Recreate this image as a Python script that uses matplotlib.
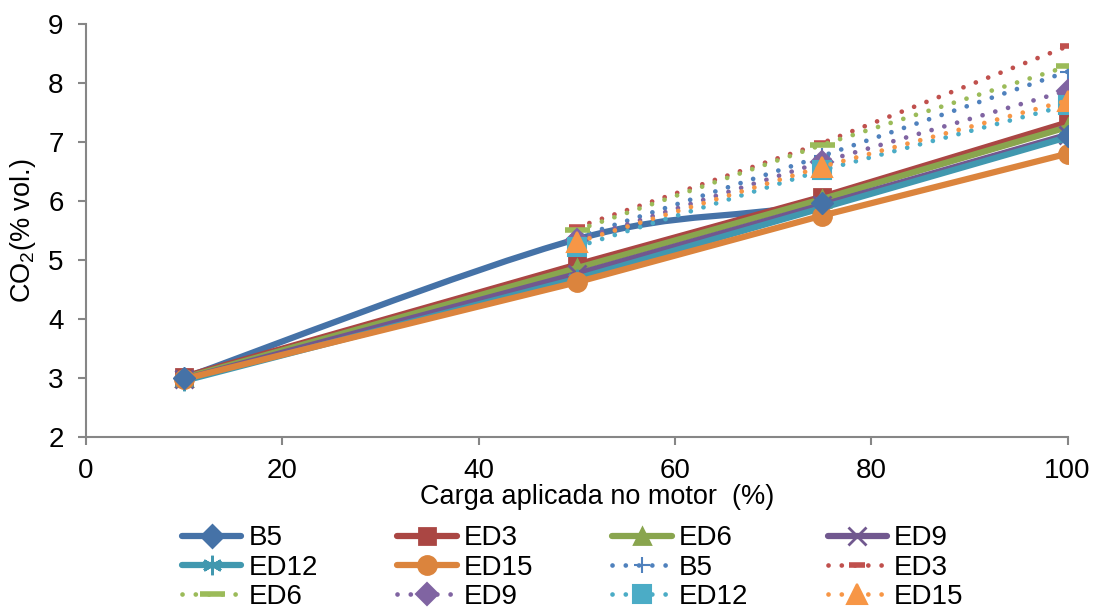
import numpy as np
import matplotlib
matplotlib.use('Agg')
from matplotlib import pyplot as plt
from matplotlib.path import Path
from matplotlib.patches import PathPatch
from matplotlib.lines import Line2D

plt.rcParams['font.family'] = ['Liberation Sans', 'DejaVu Sans']
plt.rcParams['mathtext.default'] = 'regular'

# Data
carga_full = [10, 50, 75, 100]
carga_part = [50, 75, 100]

labels = ['B5', 'ED3', 'ED6', 'ED9', 'ED12', 'ED15']

# solid series
b5 = [3.0, 5.35, 5.97, 7.10]
ed3 = [3.02, 4.92, 6.07, 7.33]
ed6 = [3.0, 4.86, 6.03, 7.25]
ed9 = [2.98, 4.76, 5.93, 7.12]
ed12 = [2.95, 4.68, 5.88, 7.08]
ed15 = [2.98, 4.62, 5.75, 6.80]

# dotted series
b5_d = [5.38, 6.76, 8.19]
ed3_d = [5.55, 6.98, 8.62]
ed6_d = [5.50, 6.95, 8.28]
ed9_d = [5.33, 6.66, 7.87]
ed12_d = [5.22, 6.52, 7.62]
ed15_d = [5.30, 6.58, 7.70]

solid_colors = ['#4572A7', '#AA4643', '#89A54E', '#71588F', '#4198AF', '#DB843D']
dot_colors = ['#4F81BD', '#C0504D', '#9BBB59', '#8064A2', '#4BACC6', '#F79646']
solid_markers = ['D', 's', '^', 'x', (6, 2, 0), 'o']
solid_msize = [11, 12, 12, 13, 14, 13]
dot_markers = ['+', '_', '_', 'D', 's', '^']
dot_msize = [12, 12, 18, 11, 13, 14]


def smooth_path(xs, ys):
    # Excel style smoothed line: cubic bezier with catmull-rom tangents
    pts = np.column_stack([xs, ys]).astype(float)
    verts = [pts[0]]
    codes = [Path.MOVETO]
    n = len(pts)
    for i in range(n - 1):
        p0 = pts[i - 1] if i > 0 else pts[i]
        p1 = pts[i]
        p2 = pts[i + 1]
        p3 = pts[i + 2] if i + 2 < n else pts[i + 1]
        c1 = p1 + (p2 - p0) / 6.0
        c2 = p2 - (p3 - p1) / 6.0
        verts += [c1, c2, p2]
        codes += [Path.CURVE4] * 3
    return Path(verts, codes)


fig = plt.figure(figsize=(10.95, 6.11), dpi=100)
ax = fig.add_axes([0.0785, 0.285, 0.8965, 0.676])

solid = [b5, ed3, ed6, ed9, ed12, ed15]
dotted = [b5_d, ed3_d, ed6_d, ed9_d, ed12_d, ed15_d]

handles = []
for i, ys in enumerate(solid):
    c = solid_colors[i]
    if i == 0:
        ax.add_patch(PathPatch(smooth_path(carga_full, ys), fill=False,
                               edgecolor=c, lw=4.5, capstyle='round', zorder=2))
        ax.plot(carga_full, ys, ls='none', marker=solid_markers[i],
                ms=solid_msize[i], color=c, zorder=3)
    else:
        ax.plot(carga_full, ys, color=c, lw=4.5, solid_capstyle='round',
                marker=solid_markers[i], ms=solid_msize[i], mew=2, zorder=2 + i * 0.01)
    handles.append(Line2D([], [], color=c, lw=4.5, solid_capstyle='round',
                          marker=solid_markers[i], ms=solid_msize[i], mew=2))

for i, ys in enumerate(dotted):
    c = dot_colors[i]
    mew = 4 if dot_markers[i] == '_' else 1.5
    ax.plot(carga_part, ys, color=c, lw=3.4, ls=(0, (0.01, 2.8)),
            dash_capstyle='round', marker=dot_markers[i], ms=dot_msize[i],
            mew=mew, zorder=4)
    handles.append(Line2D([], [], color=c, lw=3.4, ls=(0, (0.01, 2.8)),
                          dash_capstyle='round', marker=dot_markers[i],
                          ms=dot_msize[i], mew=mew))

ax.set_xlim(0, 100)
ax.set_ylim(2, 9)
ax.set_xticks(range(0, 101, 20))
ax.set_yticks(range(2, 10))

axis_grey = '#868686'
for s in ['top', 'right']:
    ax.spines[s].set_visible(False)
for s in ['left', 'bottom']:
    ax.spines[s].set_color(axis_grey)
    ax.spines[s].set_linewidth(1.5)
ax.tick_params(direction='out', length=6, width=1.5, color=axis_grey,
               labelsize=20, pad=9)
ax.tick_params(axis='y', pad=10)

ax.set_xlabel('Carga aplicada no motor  (%)', fontsize=19.5)
ax.xaxis.set_label_coords(0.521, -0.115)
ax.set_ylabel('CO$_2$(% vol.)', fontsize=19.5)
ax.yaxis.set_label_coords(-0.049, 0.5)

all_labels = labels + labels
order = [r * 4 + c for c in range(4) for r in range(3)]
fig.legend([handles[k] for k in order], [all_labels[k] for k in order],
           loc='upper left', bbox_to_anchor=(0.166, 0.14), ncol=4,
           frameon=False, fontsize=20, handlelength=2.15, handletextpad=0.25,
           columnspacing=2.85, labelspacing=0.12, borderpad=0, borderaxespad=0)

fig.savefig('out.png', dpi=100)
